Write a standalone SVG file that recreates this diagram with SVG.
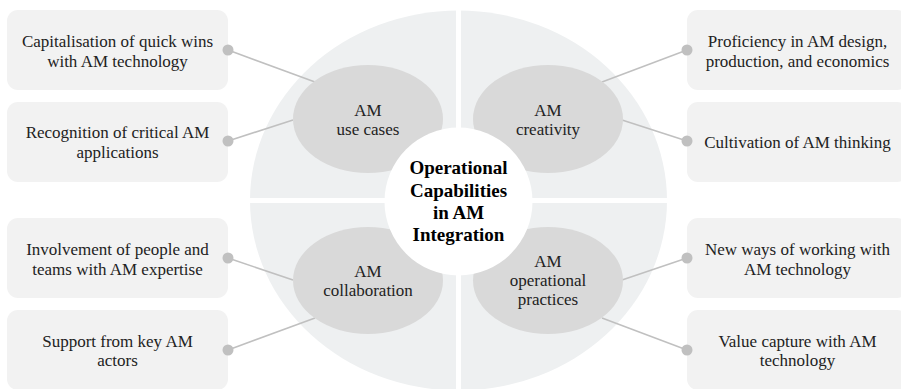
<svg xmlns="http://www.w3.org/2000/svg" width="901" height="389" viewBox="0 0 901 389">
<style>
.box{fill:#f2f2f2}
.sat{fill:#d9d9d9}
.t{font-family:'Liberation Serif','Times New Roman',serif;font-size:17px;fill:#222;text-anchor:middle}
.c{font-family:'Liberation Serif','Times New Roman',serif;font-size:19px;font-weight:bold;fill:#000;text-anchor:middle}
.ln{stroke:#c0c0c0;stroke-width:1.6;fill:none}
.dot{fill:#c0c0c0}
</style>
<rect width="901" height="389" fill="#fff"/>
<g id="background">
<ellipse cx="458.5" cy="200.5" rx="208.5" ry="190" fill="#eef0f1"/>
<rect x="456" y="0" width="5" height="389" fill="#fff"/>
<rect x="240" y="198" width="440" height="5" fill="#fff"/>
</g>
<g id="connectors">
<line class="ln" x1="228" y1="50" x2="315" y2="82"/>
<line class="ln" x1="228" y1="141" x2="293" y2="120"/>
<line class="ln" x1="228" y1="258" x2="293" y2="280"/>
<line class="ln" x1="228" y1="350" x2="315" y2="318"/>
<line class="ln" x1="687" y1="50" x2="602" y2="82"/>
<line class="ln" x1="687" y1="141" x2="622" y2="120"/>
<line class="ln" x1="687" y1="258" x2="622" y2="280"/>
<line class="ln" x1="687" y1="350" x2="602" y2="318"/>
</g>
<g id="box-quick-wins">
<rect class="box" x="7" y="10" width="221" height="80" rx="11"/>
<text class="t" x="117.5" y="47">Capitalisation of quick wins</text>
<text class="t" x="117.5" y="66.5">with AM technology</text>
<circle class="dot" cx="228" cy="50" r="5.5"/>
</g>
<g id="box-critical-apps">
<rect class="box" x="7" y="102" width="221" height="80" rx="11"/>
<text class="t" x="117.5" y="138">Recognition of critical AM</text>
<text class="t" x="117.5" y="157.5">applications</text>
<circle class="dot" cx="228" cy="141" r="5.5"/>
</g>
<g id="box-people-teams">
<rect class="box" x="7" y="218" width="221" height="80" rx="11"/>
<text class="t" x="117.5" y="255">Involvement of people and</text>
<text class="t" x="117.5" y="274.5">teams with AM expertise</text>
<circle class="dot" cx="228" cy="258" r="5.5"/>
</g>
<g id="box-key-actors">
<rect class="box" x="7" y="310" width="221" height="80" rx="11"/>
<text class="t" x="117.5" y="346.5">Support from key AM</text>
<text class="t" x="117.5" y="366">actors</text>
<circle class="dot" cx="228" cy="350" r="5.5"/>
</g>
<g id="box-proficiency">
<rect class="box" x="687" y="10" width="221" height="80" rx="11"/>
<text class="t" x="797.5" y="47">Proficiency in AM design,</text>
<text class="t" x="797.5" y="66.5">production, and economics</text>
<circle class="dot" cx="687" cy="50" r="5.5"/>
</g>
<g id="box-thinking">
<rect class="box" x="687" y="102" width="221" height="80" rx="11"/>
<text class="t" x="797.5" y="147.5">Cultivation of AM thinking</text>
<circle class="dot" cx="687" cy="141" r="5.5"/>
</g>
<g id="box-new-ways">
<rect class="box" x="687" y="218" width="221" height="80" rx="11"/>
<text class="t" x="797.5" y="255">New ways of working with</text>
<text class="t" x="797.5" y="274.5">AM technology</text>
<circle class="dot" cx="687" cy="258" r="5.5"/>
</g>
<g id="box-value-capture">
<rect class="box" x="687" y="310" width="221" height="80" rx="11"/>
<text class="t" x="797.5" y="346.5">Value capture with AM</text>
<text class="t" x="797.5" y="366">technology</text>
<circle class="dot" cx="687" cy="350" r="5.5"/>
</g>
<g id="node-use-cases">
<ellipse class="sat" cx="368" cy="119" rx="75" ry="54"/>
<text class="t" x="368" y="116">AM</text>
<text class="t" x="368" y="135">use cases</text>
</g>
<g id="node-creativity">
<ellipse class="sat" cx="548" cy="119" rx="75" ry="54"/>
<text class="t" x="548" y="116">AM</text>
<text class="t" x="548" y="135">creativity</text>
</g>
<g id="node-collaboration">
<ellipse class="sat" cx="368" cy="280.5" rx="75" ry="53.5"/>
<text class="t" x="368" y="277">AM</text>
<text class="t" x="368" y="296">collaboration</text>
</g>
<g id="node-operational-practices">
<ellipse class="sat" cx="548" cy="280.5" rx="75" ry="53.5"/>
<text class="t" x="548" y="267">AM</text>
<text class="t" x="548" y="286">operational</text>
<text class="t" x="548" y="305">practices</text>
</g>
<g id="node-center">
<circle cx="458.5" cy="201.5" r="74" fill="#fff"/>
<text class="c" x="458.5" y="174">Operational</text>
<text class="c" x="458.5" y="196.5">Capabilities</text>
<text class="c" x="458.5" y="219">in AM</text>
<text class="c" x="458.5" y="241">Integration</text>
</g>
</svg>
